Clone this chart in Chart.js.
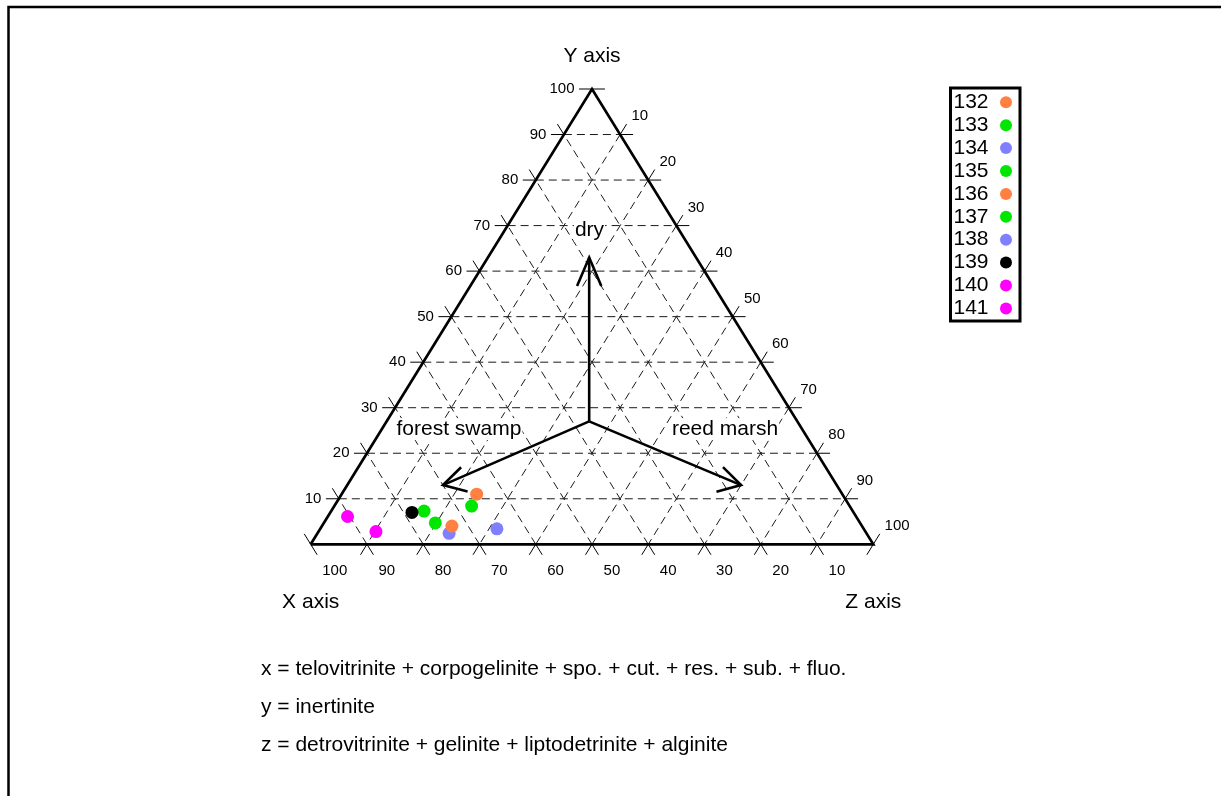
<!DOCTYPE html>
<html>
<head>
<meta charset="utf-8">
<script src="https://cdn.jsdelivr.net/npm/chart.js@4.4.1/dist/chart.umd.min.js"></script>
<style>
  html, body { margin: 0; padding: 0; background: #fff; }
  canvas { display: block; }
</style>
</head>
<body>
<canvas id="ternary" width="1221" height="796"></canvas>
<script>
// samples, ternary composition in % (x, y, z)
const samples = ['132', '133', '134', '135', '136', '137', '138', '139', '140', '141'];
const xValues = [65.0, 67.2, 74.2, 76.2, 72.9, 75.5, 65.2, 78.5, 90.4, 87.0];
const yValues = [11.0, 8.4, 2.4, 7.3, 4.0, 4.7, 3.4, 7.0, 6.1, 2.8];
const zValues = [24.0, 24.4, 23.4, 16.5, 23.1, 19.8, 31.4, 14.5, 3.5, 10.2];
const sampleColors = ['#ff8040', '#00e600', '#8080ff', '#00e600', '#ff8040', '#00e600', '#8080ff', '#000000', '#ff00ff', '#ff00ff'];

const gridValues = [10, 20, 30, 40, 50, 60, 70, 80, 90];
const tickValues = [10, 20, 30, 40, 50, 60, 70, 80, 90, 100];
const tickLabels = ['10', '20', '30', '40', '50', '60', '70', '80', '90', '100'];
const axisTitles = ['X axis', 'Y axis', 'Z axis'];

// facies arrows
const regionNames = ['forest swamp', 'dry', 'reed marsh'];
const arrowOrigin = [37, 27, 36];
const arrowTips = [[70, 13, 17], [19, 63, 18], [17, 13, 70]];
const regionLabelAt = [[61, 25.3, 13.7], [16, 68.9, 15.1], [13.7, 25.3, 61]];

const formulas = [
  'x = telovitrinite + corpogelinite + spo. + cut. + res. + sub. + fluo.',
  'y = inertinite',
  'z = detrovitrinite + gelinite + liptodetrinite + alginite'
];

// where the triangle sits on the canvas
const W = 1221, H = 796;
const triLeft = 310.7, triRight = 873.3, triTop = 89, triBase = 544.3;
const pxPerU = (triRight - triLeft) / 100;
const pxPerV = (triBase - triTop) / 100;
const tickLen = 2.3;
const FONT = '"Liberation Sans", Arial, sans-serif';

function toXY(p) {
  const s = p[0] + p[1] + p[2];
  return { x: (p[2] + p[1] / 2) * 100 / s, y: p[1] * 100 / s };
}

// point on the line "coordinate c = k", a = value of the next coordinate
function linePoint(c, k, a) {
  const p = [0, 0, 0];
  p[c] = k;
  p[(c + 1) % 3] = a;
  p[(c + 2) % 3] = 100 - k - a;
  return p;
}

function arrowHead(tip, from, len, angA, angB) {
  const t = toXY(tip), f = toXY(from);
  const dx = (f.x - t.x) * pxPerU, dy = (f.y - t.y) * pxPerV;
  const d = Math.hypot(dx, dy);
  const ux = dx / d, uy = dy / d;
  const rot = a => {
    const r = a * Math.PI / 180;
    return {
      x: t.x + len * (ux * Math.cos(r) - uy * Math.sin(r)) / pxPerU,
      y: t.y + len * (ux * Math.sin(r) + uy * Math.cos(r)) / pxPerV
    };
  };
  return [rot(angA), t, rot(angB)];
}

const datasets = [];

// samples (later ones on top)
samples.forEach((name, i) => {
  datasets.push({
    label: name,
    data: [toXY([xValues[i], yValues[i], zValues[i]])],
    backgroundColor: sampleColors[i],
    borderWidth: 0,
    pointRadius: 6.5,
    order: 100 - i
  });
});

// dashed grid
for (let c = 0; c < 3; c++) {
  gridValues.forEach(k => {
    datasets.push({
      data: [toXY(linePoint(c, k, 0)), toXY(linePoint(c, k, 100 - k))],
      showLine: true, borderColor: '#1a1a1a', borderWidth: 1, borderDash: [8, 5],
      pointRadius: 0, order: 900
    });
  });
}

// ticks: grid lines pushed past the edges
for (let c = 0; c < 3; c++) {
  tickValues.forEach(k => {
    datasets.push({
      data: [toXY(linePoint(c, k, -tickLen)), toXY(linePoint(c, k, 0))],
      showLine: true, borderColor: '#000', borderWidth: 1, pointRadius: 0, order: 600
    });
    datasets.push({
      data: [toXY(linePoint(c, k, 100 - k)), toXY(linePoint(c, k, 100 - k + tickLen))],
      showLine: true, borderColor: '#000', borderWidth: 1, pointRadius: 0, order: 600
    });
  });
}

// triangle
datasets.push({
  data: [toXY([100, 0, 0]), toXY([0, 100, 0]), toXY([0, 0, 100]), toXY([100, 0, 0])],
  showLine: true, borderColor: '#000', borderWidth: 2.7, borderJoinStyle: 'miter',
  pointRadius: 0, order: 500
});

// arrows
const headSpec = [[25.5, 21, -38], [31, -23, 23], [25.5, -22, 38]];
arrowTips.forEach((tip, i) => {
  datasets.push({
    data: [toXY(arrowOrigin), toXY(tip)],
    showLine: true, borderColor: '#000', borderWidth: 2.6, pointRadius: 0, order: 300
  });
  datasets.push({
    data: arrowHead(tip, arrowOrigin, headSpec[i][0], headSpec[i][1], headSpec[i][2]),
    showLine: true, borderColor: '#000', borderWidth: 2.6, borderJoinStyle: 'miter',
    pointRadius: 0, order: 300
  });
});

const decor = {
  id: 'decor',
  beforeDraw(chart) {
    const { ctx, width, height } = chart;
    ctx.save();
    ctx.fillStyle = '#fff';
    ctx.fillRect(0, 0, width, height);
    ctx.strokeStyle = '#000';
    ctx.lineWidth = 2.5;
    ctx.beginPath();
    ctx.moveTo(8.5, height);
    ctx.lineTo(8.5, 7);
    ctx.lineTo(width, 7);
    ctx.stroke();
    ctx.restore();
  },
  afterDatasetsDraw(chart) {
    const { ctx } = chart;
    const sx = chart.scales.x, sy = chart.scales.y;
    const px = p => { const q = toXY(p); return [sx.getPixelForValue(q.x), sy.getPixelForValue(q.y)]; };
    ctx.save();
    ctx.fillStyle = '#000';

    // tick labels
    ctx.font = '15px ' + FONT;
    tickValues.forEach((k, i) => {
      let p = px(linePoint(0, k, -4.1));
      ctx.textAlign = 'left'; ctx.textBaseline = 'top';
      ctx.fillText(tickLabels[i], p[0], p[1]);
      p = px(linePoint(1, k, -3.1));
      ctx.textAlign = 'right'; ctx.textBaseline = 'middle';
      ctx.fillText(tickLabels[i], p[0], p[1]);
      p = px(linePoint(2, k, -4.0));
      ctx.textAlign = 'left'; ctx.textBaseline = 'middle';
      ctx.fillText(tickLabels[i], p[0], p[1]);
    });

    // axis titles
    ctx.font = '21px ' + FONT;
    ctx.textAlign = 'center'; ctx.textBaseline = 'middle';
    let v = px([100, 0, 0]);
    ctx.fillText(axisTitles[0], v[0], v[1] + 58);
    v = px([0, 100, 0]);
    ctx.fillText(axisTitles[1], v[0], v[1] - 33);
    v = px([0, 0, 100]);
    ctx.fillText(axisTitles[2], v[0], v[1] + 58);

    // region labels on white boxes
    regionNames.forEach((name, i) => {
      const p = px(regionLabelAt[i]);
      const w = ctx.measureText(name).width;
      ctx.fillStyle = '#fff';
      ctx.fillRect(p[0] - w / 2 - 1, p[1] - 11, w + 2, 22);
      ctx.fillStyle = '#000';
      ctx.fillText(name, p[0], p[1]);
    });

    // formulas
    ctx.textAlign = 'left';
    formulas.forEach((t, i) => ctx.fillText(t, 261, 669 + i * 38));
    ctx.restore();
  },
  afterDraw(chart) {
    const { ctx } = chart;
    ctx.save();
    ctx.strokeStyle = '#000';
    ctx.lineWidth = 3;
    ctx.strokeRect(950.5, 88, 69.5, 233);
    ctx.font = '21px ' + FONT;
    ctx.textAlign = 'left'; ctx.textBaseline = 'middle';
    samples.forEach((name, i) => {
      const y = 102.3 + i * 22.9;
      ctx.fillStyle = '#000';
      ctx.fillText(name, 953.5, y);
      ctx.fillStyle = sampleColors[i];
      ctx.beginPath();
      ctx.arc(1006, y, 6, 0, Math.PI * 2);
      ctx.fill();
    });
    ctx.restore();
  }
};

new Chart(document.getElementById('ternary'), {
  type: 'scatter',
  data: { datasets },
  options: {
    responsive: false,
    animation: false,
    layout: { padding: 0, autoPadding: false },
    plugins: {
      legend: { display: false },
      tooltip: { enabled: false }
    },
    events: [],
    scales: {
      x: {
        type: 'linear', display: false, bounds: 'data',
        min: -triLeft / pxPerU, max: (W - triLeft) / pxPerU
      },
      y: {
        type: 'linear', display: false, bounds: 'data',
        min: -(H - triBase) / pxPerV, max: triBase / pxPerV
      }
    }
  },
  plugins: [decor]
});
</script>
</body>
</html>
